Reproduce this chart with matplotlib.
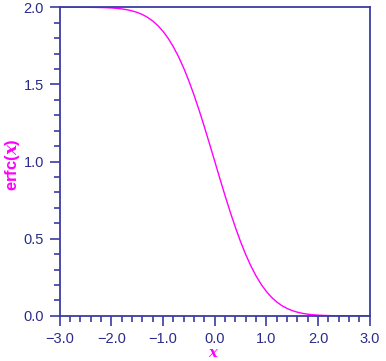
import numpy as np
import matplotlib
matplotlib.use("Agg")
import matplotlib.pyplot as plt
from matplotlib.ticker import MultipleLocator

# erfc(x) values, x from -3.0 to 3.0 in steps of 0.1
x_vals = [round(-3.0 + 0.1 * i, 1) for i in range(61)]
erf_pos = [0.0000, 0.1125, 0.2227, 0.3286, 0.4284, 0.5205, 0.6039, 0.6778,
           0.7421, 0.7969, 0.8427, 0.8802, 0.9103, 0.9340, 0.9523, 0.9661,
           0.9763, 0.9838, 0.9891, 0.9928, 0.9953, 0.9970, 0.9981, 0.9989,
           0.9993, 0.9996, 0.9998, 0.9999, 0.9999, 1.0000, 1.0000]
# left half (x = -3.0 .. -0.1) and right half (x = 0.0 .. 3.0)
erfc_left = [1.0 + v for v in erf_pos[:0:-1]]
erfc_right = [1.0 - v for v in erf_pos]
erfc_vals = erfc_left + erfc_right

axis_col = "#3b3ba3"
text_col = "#2b2b8c"
curve_col = "#ff00ff"

plt.rcParams["font.family"] = ["Liberation Sans", "DejaVu Sans"]
plt.rcParams["mathtext.fontset"] = "dejavuserif"

fig = plt.figure(figsize=(3.86, 3.61), dpi=100)
ax = fig.add_axes([0.155, 0.125, 0.803, 0.855])
ax.plot(x_vals, erfc_vals, color=curve_col, lw=1.0)

ax.set_xlim(-3.0, 3.0)
ax.set_ylim(0.0, 2.0)
ax.xaxis.set_major_locator(MultipleLocator(1.0))
ax.xaxis.set_minor_locator(MultipleLocator(0.2))
ax.yaxis.set_major_locator(MultipleLocator(0.5))
ax.yaxis.set_minor_locator(MultipleLocator(0.1))
ax.xaxis.set_major_formatter(lambda v, p: f"{v:.1f}".replace("-", "\u2212"))
ax.yaxis.set_major_formatter(lambda v, p: f"{v:.1f}")

for s in ax.spines.values():
    s.set_color(axis_col)
    s.set_linewidth(1.3)
ax.tick_params(which="both", direction="out", color=axis_col, width=1.2,
               labelcolor=text_col, labelsize=10.5)
ax.tick_params(which="major", length=7.5, pad=4)
ax.tick_params(which="minor", length=4.5)

# axis titles placed in figure pixels so they stay inside the canvas
fig.text(214 / 386, 1 - 353 / 361, r"$\mathbfit{x}$", color=curve_col,
         fontsize=10.5, ha="center", va="center")
fig.text(12 / 386, 1 - 165 / 361, r"erfc($\mathbfit{x}$)", color=curve_col,
         fontsize=12, fontweight="bold", rotation=90, ha="center", va="center")

fig.savefig("out.png", dpi=100)
